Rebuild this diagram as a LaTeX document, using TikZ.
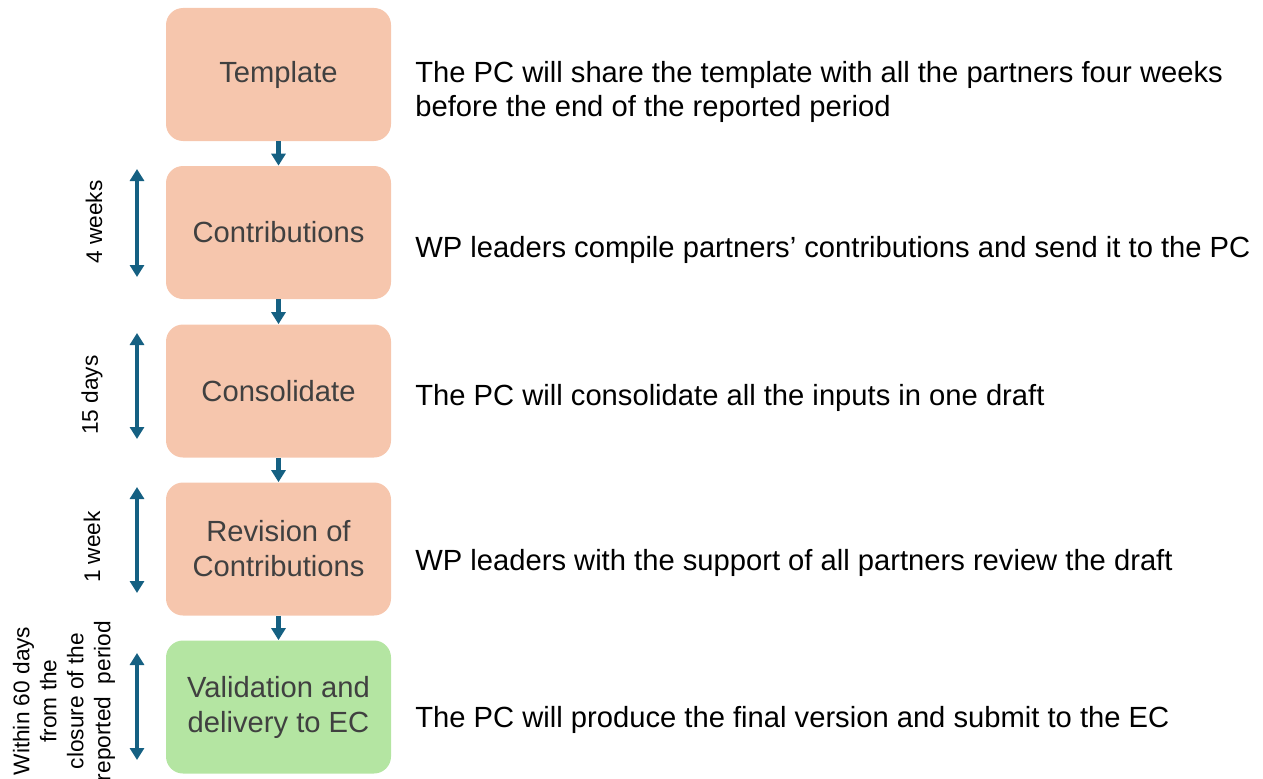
\documentclass[tikz,border=0pt]{standalone}
\usepackage{fontspec}
\setmainfont{Liberation Sans}
\usetikzlibrary{arrows.meta,positioning}
\definecolor{colPeach}{HTML}{F6C6AD}
\definecolor{colMint}{HTML}{B4E5A2}
\definecolor{colArrow}{HTML}{156082}
\definecolor{colInk}{HTML}{404040}
\def\boxfont{\fontsize{16.6pt}{19.9pt}\selectfont}
\def\descfont{\fontsize{16.6pt}{19.2pt}\selectfont}
\def\sidefont{\fontsize{12.9pt}{15.4pt}\selectfont}
\tikzset{
  stagebox/.style={fill=colPeach, rounded corners=0.34cm, minimum width=4.5cm,
    minimum height=2.66cm, align=center, font=\boxfont, text=colInk, inner sep=0pt},
  flowarrow/.style={draw=colArrow, line width=2.3pt,
    -{Triangle[width=0.28cm,length=0.24cm]}},
  spanarrow/.style={draw=colArrow, line width=2.1pt,
    {Triangle[width=0.28cm,length=0.24cm]}-{Triangle[width=0.28cm,length=0.24cm]}},
  desc/.style={anchor=west, font=\descfont, align=left, inner sep=0pt},
  side/.style={rotate=90, font=\sidefont, align=center, inner sep=0pt}
}

\begin{document}
\begin{tikzpicture}
\useasboundingbox (0,0) rectangle (25.26,-15.56);
\clip (0,0) rectangle (25.26,-15.56);

% ===================== stages =====================
\node[stagebox] (tpl)  at (5.57,-1.49)  {Template};
\node[stagebox] (contr) at (5.57,-4.65) {Contributions};
\node[stagebox] (cons) at (5.57,-7.82)  {Consolidate};
\node[stagebox] (rev)  at (5.57,-10.98) {Revision of\\Contributions};
\node[stagebox, fill=colMint] (valid) at (5.57,-14.14) {Validation and\\delivery to EC};

\draw[flowarrow] (tpl) -- (contr);
\draw[flowarrow] (contr) -- (cons);
\draw[flowarrow] (cons) -- (rev);
\draw[flowarrow] (rev) -- (valid);

% ===================== descriptions =====================
\node[desc] (dtpl) at (8.3,-1.84)
  {The PC will share the template with all the partners four weeks\\before the end of the reported period};
\node[desc] (dcontr) at (8.3,-5.00)
  {WP leaders compile partners’ contributions and send it to the PC};
\node[desc] (dcons) at (8.3,-7.96)
  {The PC will consolidate all the inputs in one draft};
\node[desc] (drev) at (8.3,-11.26)
  {WP leaders with the support of all partners review the draft};
\node[desc] (dvalid) at (8.3,-14.40)
  {The PC will produce the final version and submit to the EC};

% ===================== durations =====================
\foreach \i/\a/\b in {2/-3.38/-5.54, 3/-6.66/-8.78, 4/-9.74/-11.86, 5/-13.06/-15.20} {
  \coordinate (top\i) at (2.74,\a);
  \coordinate (bot\i) at (2.74,\b);
  \draw[spanarrow] (top\i) -- (bot\i);
}
\node[side] (w4)  at (1.88,-4.44)  {4 weeks};
\node[side] (d15) at (1.84,-7.90)  {15 days};
\node[side] (w1)  at (1.84,-10.94) {1 week};
\node[side] (d60) at (1.28,-14.02)
  {Within 60 days\\from the\\closure of the\\reported\ \ period};

\end{tikzpicture}
\end{document}
